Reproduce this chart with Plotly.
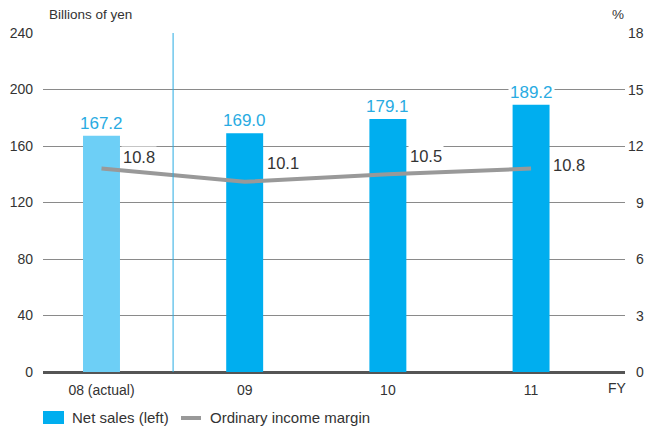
import plotly.graph_objects as go

# Fiscal-year categories and values
years = ["08 (actual)", "09", "10", "11"]
net_sales = [167.2, 169.0, 179.1, 189.2]          # billions of yen (left axis)
income_margin = [10.8, 10.1, 10.5, 10.8]          # percent (right axis)
bar_colors = ["#6dcff6", "#00aeef", "#00aeef", "#00aeef"]
margin_ticks = [0, 3, 6, 9, 12, 15, 18]           # right-axis tick labels

# vertical pixel offsets of the margin labels from their points
margin_label_dy = [12, 19, 18, 4]

FONT = "Liberation Sans"
TXT = "#333333"
BLUE = "#00aeef"
LINE_GRAY = "#999999"

# plot-area geometry (pixels) used for the hand-placed texts
W, H = 646, 426
L, R, T, B = 43, 21, 33, 54
PW, PH = W - L - R, H - T - B


def px(x):
    return (x - L) / PW


def py(y):
    return (H - B - y) / PH


fig = go.Figure()

fig.add_trace(go.Bar(
    x=years, y=net_sales, name="Net sales (left)",
    marker=dict(color=bar_colors, line=dict(width=0)),
    width=0.258, yaxis="y", showlegend=False,
))
fig.add_trace(go.Scatter(
    x=years, y=income_margin, name="Ordinary income margin",
    mode="lines", line=dict(color=LINE_GRAY, width=4),
    yaxis="y2", showlegend=False,
))

# Value labels above bars
for i, v in enumerate(net_sales):
    fig.add_annotation(x=i, y=v, xref="x", yref="y", text=f"{v:.1f}",
                       showarrow=False, yanchor="bottom", yshift=1,
                       bgcolor="white", borderpad=1,
                       font=dict(family=FONT, size=17, color="#29abe2"))

# Margin labels beside line points
for i, (v, dy) in enumerate(zip(income_margin, margin_label_dy)):
    fig.add_annotation(x=i, y=v, xref="x", yref="y2", text=f"{v:.1f}",
                       showarrow=False, xanchor="left", xshift=20, yshift=dy,
                       bgcolor="white", borderpad=1,
                       font=dict(family=FONT, size=16.5, color=TXT))

# Right-axis tick labels, right-aligned at the edge
for t in margin_ticks:
    fig.add_annotation(x=px(646), y=t, xref="paper", yref="y2", text=str(t),
                       showarrow=False, xanchor="right", yanchor="middle",
                       font=dict(family=FONT, size=14, color=TXT))

# Separator between actual and forecast years
fig.add_shape(type="line", xref="x", yref="paper", x0=0.5, x1=0.5, y0=0, y1=1,
              line=dict(color="#29abe2", width=1), layer="above")

# Axis unit labels and FY marker
fig.add_annotation(text="Billions of yen", xref="paper", yref="paper",
                   x=px(47), y=py(15), xanchor="left", yanchor="middle",
                   showarrow=False, font=dict(family=FONT, size=13.5, color=TXT))
fig.add_annotation(text="%", xref="paper", yref="paper",
                   x=px(618), y=py(15), xanchor="center", yanchor="middle",
                   showarrow=False, font=dict(family=FONT, size=13.5, color=TXT))
fig.add_annotation(text="FY", xref="paper", yref="paper",
                   x=px(617), y=py(388), xanchor="center", yanchor="middle",
                   showarrow=False, font=dict(family=FONT, size=14, color=TXT))

# Legend
fig.add_shape(type="rect", xref="paper", yref="paper",
              x0=px(43), x1=px(64), y0=py(424), y1=py(411),
              fillcolor=BLUE, line=dict(width=0))
fig.add_annotation(text="Net sales (left)", xref="paper", yref="paper",
                   x=px(70), y=py(417), xanchor="left", yanchor="middle",
                   showarrow=False, font=dict(family=FONT, size=15, color=TXT))
fig.add_shape(type="line", xref="paper", yref="paper",
              x0=px(181), x1=px(201), y0=py(418), y1=py(418),
              line=dict(color=LINE_GRAY, width=4))
fig.add_annotation(text="Ordinary income margin", xref="paper", yref="paper",
                   x=px(208), y=py(417), xanchor="left", yanchor="middle",
                   showarrow=False, font=dict(family=FONT, size=15, color=TXT))

fig.update_layout(
    width=W, height=H,
    margin=dict(l=L, r=R, t=T, b=B),
    paper_bgcolor="white", plot_bgcolor="white",
    font=dict(family=FONT, size=14, color=TXT),
    showlegend=False,
    xaxis=dict(range=[-0.4085, 3.656], showgrid=False, showline=False, ticks="",
               tickfont=dict(size=14), zeroline=False, automargin=False,
               ticklabelstandoff=8),
    yaxis=dict(range=[0, 240], dtick=40, showgrid=True, gridcolor="#8a8a8a",
               gridwidth=1.4, zeroline=True, zerolinecolor="#555555",
               zerolinewidth=3, ticks="", tickfont=dict(size=14),
               ticklabelstandoff=9, automargin=False),
    yaxis2=dict(range=[0, 18], overlaying="y", side="right",
                showgrid=False, zeroline=False, ticks="",
                showticklabels=False, automargin=False),
)

fig.write_html("out.html")
